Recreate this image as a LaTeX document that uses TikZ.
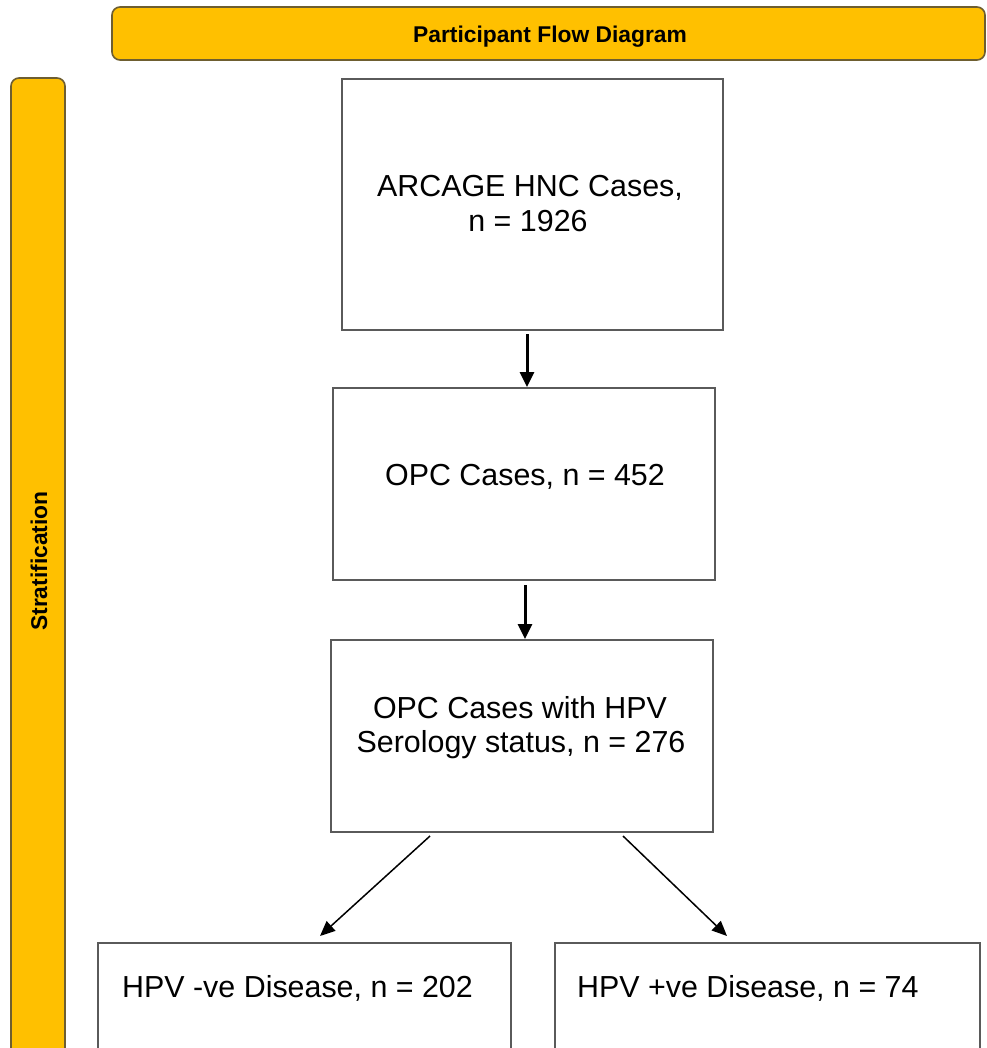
\documentclass[tikz,border=0pt]{standalone}
\usepackage{fontspec}
\setmainfont{Liberation Sans}
\usetikzlibrary{arrows.meta}
\definecolor{gold}{HTML}{FFC000}
\definecolor{goldedge}{HTML}{6E5E30}
\definecolor{boxedge}{HTML}{5A5A5A}
\begin{document}
\begin{tikzpicture}[x=1pt,y=-1pt,
  box/.style={draw=boxedge, line width=2pt, fill=white, inner sep=0pt, anchor=center},
  bar/.style={draw=goldedge, fill=gold, line width=1.6pt, rounded corners=8pt, inner sep=0pt, anchor=center},
  txt/.style={inner sep=0pt, anchor=base, font=\fontsize{30.4}{35}\selectfont},
  lbl/.style={inner sep=0pt, anchor=base, font=\fontsize{22.8}{26}\selectfont\bfseries},
  thick arrow/.style={line width=3pt, -{Triangle[length=15pt,width=14pt]}},
  thin arrow/.style={line width=1.5pt, -{Triangle[length=15pt,width=13pt]}}]
\useasboundingbox (0,0) rectangle (986,1048);
\clip (0,0) rectangle (986,1048);
\fill[white] (0,0) rectangle (986,1048);

% bars
\node[bar, minimum width=873pt, minimum height=53pt] (title) at (548.5,33.5) {};
\node[lbl] (titletext) at (550,43) {Participant Flow Diagram};
\node[bar, minimum width=54pt, minimum height=1030pt] (side) at (38,593) {};
\node[lbl, rotate=90] (sidetext) at (47,561) {Stratification};

% boxes
\node[box, minimum width=381pt, minimum height=251pt] (b1) at (532.5,204.5) {};
\node[box, minimum width=382pt, minimum height=192pt] (b2) at (524,484) {};
\node[box, minimum width=382pt, minimum height=192pt] (b3) at (522,736) {};
\node[box, minimum width=413pt, minimum height=160pt] (b4) at (304.5,1023) {};
\node[box, minimum width=425pt, minimum height=160pt] (b5) at (767.5,1023) {};

% texts
\node[txt] (t1a) at (530,197) {ARCAGE HNC Cases,};
\node[txt] (t1b) at (528,232) {n = 1926};
\node[txt] (t2) at (525,485) {OPC Cases, n = 452};
\node[txt] (t3a) at (520,718) {OPC Cases with HPV};
\node[txt] (t3b) at (521,752) {Serology status, n = 276};
\node[txt, anchor=base west] (t4) at (122,997) {HPV -ve Disease, n = 202};
\node[txt, anchor=base west] (t5) at (577,997) {HPV +ve Disease, n = 74};

% connectors
\draw[thick arrow] ([xshift=-5.5pt,yshift=-3pt]b1.south) -- ([xshift=3pt]b2.north);
\draw[thick arrow] ([xshift=1pt,yshift=-4pt]b2.south) -- ([xshift=3pt]b3.north);
\draw[thin arrow] ([shift={(-92,3)}]b3.south) -- ([shift={(15.5,-6)}]b4.north);
\draw[thin arrow] ([shift={(101,3)}]b3.south) -- ([shift={(-40.5,-6)}]b5.north);
\end{tikzpicture}
\end{document}
